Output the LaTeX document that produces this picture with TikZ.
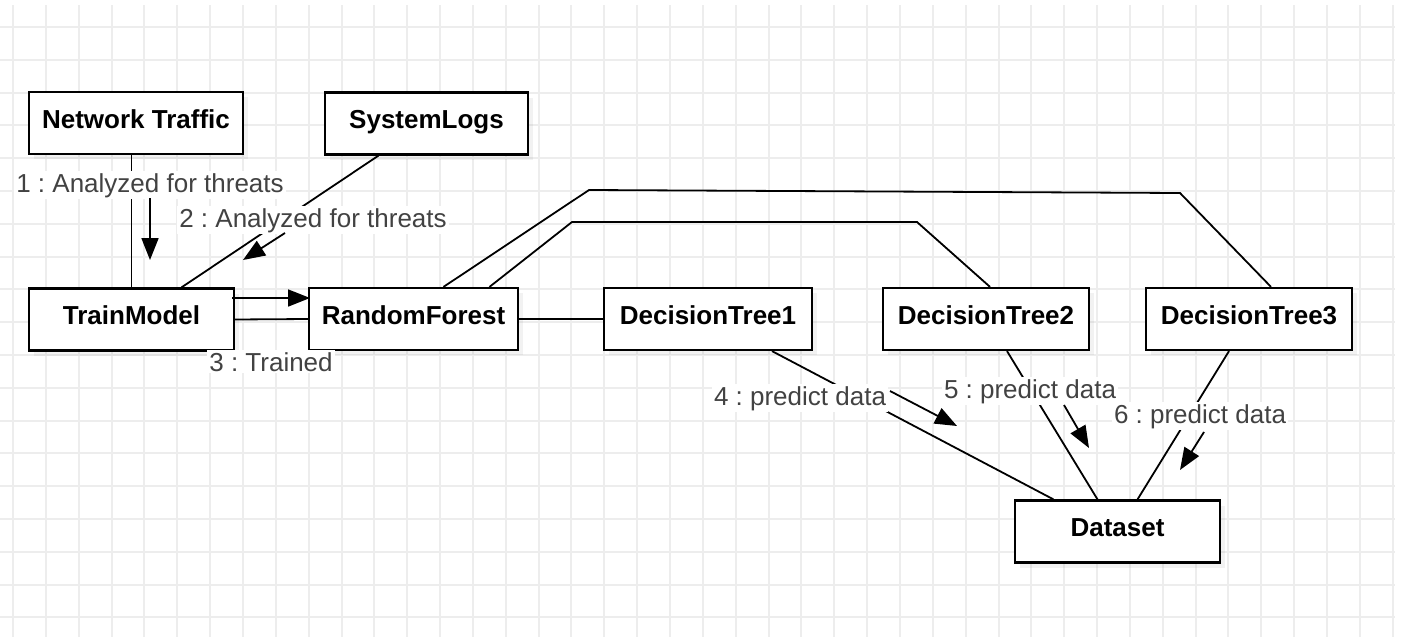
\documentclass[tikz,border=0pt]{standalone}
\usepackage{fontspec}
\setmainfont{Liberation Sans}
\usetikzlibrary{arrows.meta,shadows}

\begin{document}
\frenchspacing
\begin{tikzpicture}[x=0.5pt,y=-0.5pt,
  gridline/.style={draw=gray!14, line width=1pt},
  objbox/.style={draw=black, line width=1.1pt, fill=white, minimum height=31pt,
    inner sep=0pt, font=\fontsize{13pt}{15pt}\selectfont\bfseries,
    text height=9.4pt, text depth=4pt,
    drop shadow={opacity=0.10, shadow xshift=2.5pt, shadow yshift=-2.5pt}},
  link/.style={draw=black, line width=0.9pt},
  msg/.style={draw=black, line width=0.9pt, -{Triangle[length=11pt,width=8.5pt]}},
  msglabel/.style={fill=white, text=black!74, inner sep=1pt, anchor=base,
    font=\fontsize{13pt}{15pt}\selectfont\frenchspacing}
]
\useasboundingbox (0,0) rectangle (1402,637);
\fill[white] (0,0) rectangle (1402,637);

% background grid
\foreach \i in {0,...,42}
  \draw[gridline] ({13+32.85*\i},5) -- ({13+32.85*\i},637);
\foreach \j in {0,...,18}
  \draw[gridline] (0,{27+32.8*\j}) -- (1395,{27+32.8*\j});

% objects
\node[objbox, minimum width=107pt]   (nt)  at (136,123)    {Network Traffic};
\node[objbox, minimum width=101.5pt] (sl)  at (426.5,123.5) {SystemLogs};
\node[objbox, minimum width=102.5pt] (tm)  at (131.5,319.5) {TrainModel};
\node[objbox, minimum width=104.5pt] (rf)  at (413.5,319)  {RandomForest};
\node[objbox, minimum width=104pt]   (dt1) at (708,319)    {DecisionTree1};
\node[objbox, minimum width=103pt]   (dt2) at (986,319)    {DecisionTree2};
\node[objbox, minimum width=103pt]   (dt3) at (1249,319)   {DecisionTree3};
\node[objbox, minimum width=102.5pt] (ds)  at (1117.5,531.5) {Dataset};

% links
\draw[link] (tm.north) -- (tm.north |- nt.south);
\draw[link] ([xshift=-24pt]sl.south) -- ([xshift=25pt]tm.north);
\draw[link] (tm.east) -- (rf.west);
\draw[link] (rf.east) -- (dt1.west);
\coordinate (c2a) at (572,222);
\coordinate (c2b) at (917,222);
\draw[link] ([xshift=38pt]rf.north) -- (c2a) -- (c2b) -- ([xshift=2pt]dt2.north);
\coordinate (c3a) at (589,190);
\coordinate (c3b) at (1180,193);
\draw[link] ([xshift=15pt]rf.north) -- (c3a) -- (c3b) -- ([xshift=11pt]dt3.north);
\draw[link] ([xshift=32pt]dt1.south) -- ([xshift=-32pt]ds.north);
\draw[link] ([xshift=10.5pt]dt2.south) -- ([xshift=-10pt]ds.north);
\draw[link] ([xshift=-10pt]dt3.south) -- ([xshift=10pt]ds.north);

% message labels
\node[msglabel] (l1) at (150,192)  {1 : Analyzed for threats};
\node[msglabel] (l2) at (313,227)  {2 : Analyzed for threats};
\node[msglabel] (l3) at (271,371)  {3 : Trained};
\node[msglabel] (l4) at (800,405)  {4 : predict data};
\node[msglabel] (l5) at (1030,398) {5 : predict data};
\node[msglabel] (l6) at (1200,423) {6 : predict data};

% message arrows
\coordinate (a1s) at (150,198);  \coordinate (a1e) at (150,260);
\coordinate (a2s) at (285,233);  \coordinate (a2e) at (243,260);
\coordinate (a3s) at (232,298);  \coordinate (a3e) at (310,298);
\coordinate (a4s) at (890,391);  \coordinate (a4e) at (957,426);
\coordinate (a5s) at (1064,405); \coordinate (a5e) at (1089,448);
\coordinate (a6s) at (1204,432); \coordinate (a6e) at (1180,470);
\draw[msg] (a1s) -- (a1e);
\draw[msg] (a2s) -- (a2e);
\draw[msg] (a3s) -- (a3e);
\draw[msg] (a4s) -- (a4e);
\draw[msg] (a5s) -- (a5e);
\draw[msg] (a6s) -- (a6e);
\end{tikzpicture}
\end{document}
